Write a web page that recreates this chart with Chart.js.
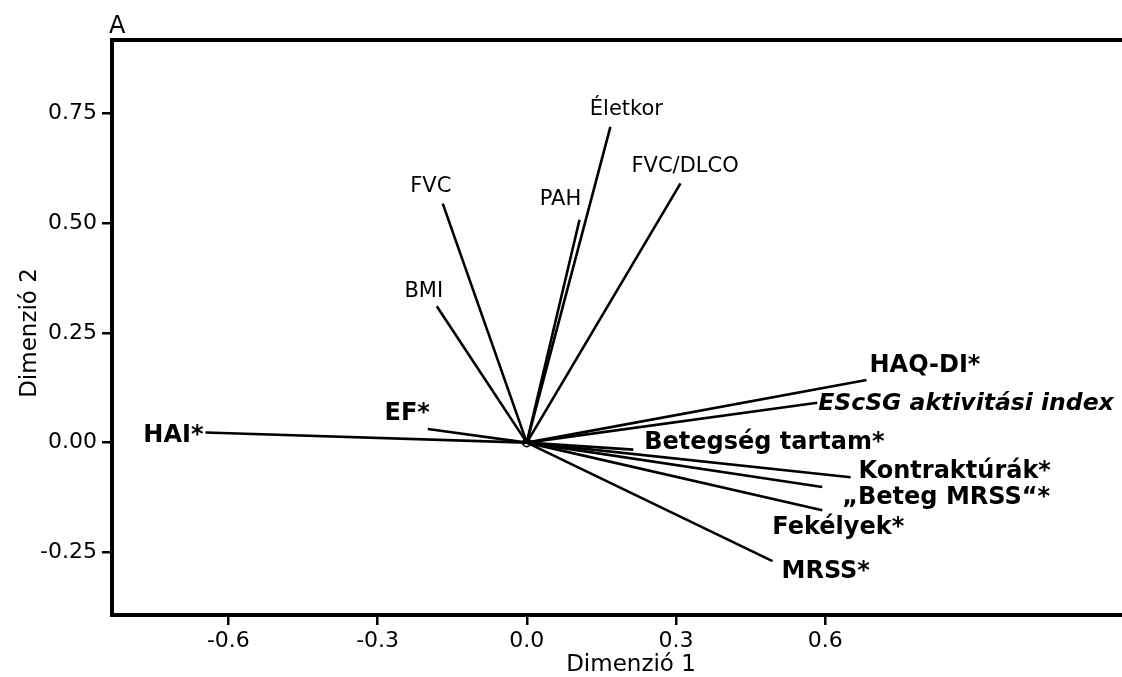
<!DOCTYPE html>
<html>
<head>
<meta charset="utf-8">
<script src="https://cdn.jsdelivr.net/npm/chart.js@4.4.1/dist/chart.umd.min.js"></script>
<style>
  body { margin: 0; background: #fff; }
  canvas { display: block; }
</style>
</head>
<body>
<canvas id="biplot" width="1122" height="677"></canvas>
<script>
// variables of the biplot and their coordinates on the two dimensions
const variables = ['HAI*', 'EF*', 'BMI', 'FVC', 'PAH', 'Életkor', 'FVC/DLCO', 'HAQ-DI*',
  'EScSG aktivitási index', 'Betegség tartam*', 'Kontraktúrák*', '„Beteg MRSS“*', 'Fekélyek*', 'MRSS*'];
const dim1 = [-0.646, -0.199, -0.181, -0.169, 0.106, 0.168, 0.309, 0.683, 0.584, 0.214, 0.651, 0.594, 0.594, 0.494];
const dim2 = [0.023, 0.031, 0.311, 0.545, 0.508, 0.720, 0.591, 0.143, 0.091, -0.016, -0.079, -0.101, -0.154, -0.270];
const xTicks = [-0.6, -0.3, 0.0, 0.3, 0.6];
const yTicks = [-0.25, 0.00, 0.25, 0.50, 0.75];

// label look and placement (offset from the end of each vector)
const labelStyle = ['b', 'b', 'n', 'n', 'n', 'n', 'n', 'b', 'bi', 'b', 'b', 'b', 'b', 'b'];
const labelPlace = [
  ['right', -2, 9], ['right', 2, -9], ['center', -13, -9], ['center', -12, -12],
  ['center', -19, -15], ['center', 16, -12], ['left', -49, -11], ['left', 3, -8],
  ['left', 1, 7], ['left', 11, -1], ['left', 8, 1], ['left', 20, 17],
  ['left', -50, 24], ['left', 9, 17]
];
const FONT = "'DejaVu Sans', sans-serif";
const fonts = { n: '21px ' + FONT, b: 'bold 24px ' + FONT, bi: 'italic bold 23.5px ' + FONT };

const datasets = variables.map((name, i) => ({
  label: name,
  data: [{ x: 0, y: 0 }, { x: dim1[i], y: dim2[i] }],
  showLine: true,
  borderColor: '#000',
  borderWidth: 2.6,
  pointRadius: 0
}));
datasets.push({
  label: 'origin',
  data: [{ x: 0, y: 0 }],
  pointRadius: 4,
  pointBorderWidth: 1.8,
  pointBorderColor: '#000',
  pointBackgroundColor: 'rgba(0,0,0,0)'
});

const decor = {
  id: 'decor',
  afterDraw(chart) {
    const ctx = chart.ctx;
    const ca = chart.chartArea;
    const xs = chart.scales.x, ys = chart.scales.y;
    ctx.save();
    // frame
    ctx.strokeStyle = '#000';
    ctx.lineWidth = 4;
    ctx.beginPath();
    ctx.moveTo(chart.width, ca.top);
    ctx.lineTo(ca.left, ca.top);
    ctx.lineTo(ca.left, ca.bottom);
    ctx.lineTo(chart.width, ca.bottom);
    ctx.stroke();

    // vector labels
    ctx.fillStyle = '#000';
    ctx.textBaseline = 'alphabetic';
    variables.forEach((name, i) => {
      const px = xs.getPixelForValue(dim1[i]);
      const py = ys.getPixelForValue(dim2[i]);
      const p = labelPlace[i];
      ctx.font = fonts[labelStyle[i]];
      ctx.textAlign = p[0];
      ctx.fillText(name, px + p[1], py + p[2]);
    });

    // axis titles and panel letter
    ctx.font = '23px ' + FONT;
    ctx.textAlign = 'center';
    ctx.fillText('Dimenzió 1', 631, 671);
    ctx.save();
    ctx.translate(36, 333);
    ctx.rotate(-Math.PI / 2);
    ctx.fillText('Dimenzió 2', 0, 0);
    ctx.restore();
    ctx.font = '24px ' + FONT;
    ctx.textAlign = 'left';
    ctx.fillText('A', 109, 33);
    ctx.restore();
  }
};

new Chart(document.getElementById('biplot'), {
  type: 'scatter',
  data: { datasets: datasets },
  options: {
    responsive: false,
    animation: false,
    layout: { padding: { top: 40, right: 0, left: 0, bottom: 0 } },
    plugins: { legend: { display: false }, tooltip: { enabled: false } },
    scales: {
      x: {
        min: -0.834, max: 1.185,
        afterBuildTicks: (axis) => { axis.ticks = xTicks.map(v => ({ value: v })); },
        afterFit: (axis) => { axis.height = 62; },
        grid: { drawOnChartArea: false, drawTicks: true, tickLength: 10, color: '#000', lineWidth: 2.5 },
        border: { display: false },
        ticks: { color: '#000', font: { family: FONT, size: 22 }, padding: 3, maxRotation: 0,
          callback: (v) => Number(v).toFixed(1) }
      },
      y: {
        min: -0.393, max: 0.918,
        afterBuildTicks: (axis) => { axis.ticks = yTicks.map(v => ({ value: v })); },
        afterFit: (axis) => { axis.width = 112; },
        grid: { drawOnChartArea: false, drawTicks: true, tickLength: 10, color: '#000', lineWidth: 2.5 },
        border: { display: false },
        ticks: { color: '#000', font: { family: FONT, size: 22 }, padding: 5,
          callback: (v) => Number(v).toFixed(2) }
      }
    }
  },
  plugins: [decor]
});
</script>
</body>
</html>
